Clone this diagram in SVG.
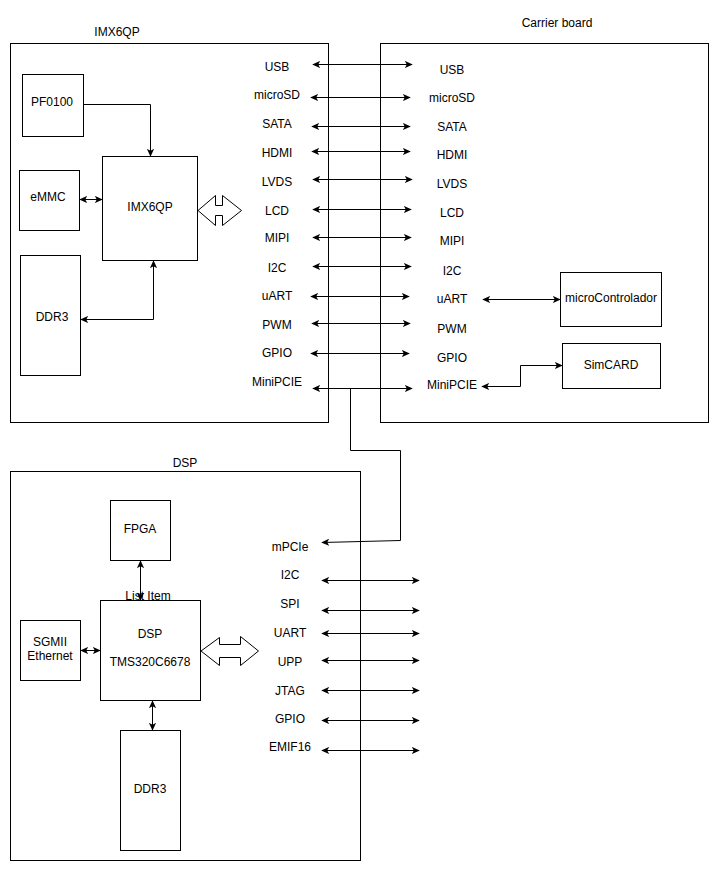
<svg xmlns="http://www.w3.org/2000/svg" width="720" height="871" viewBox="0 0 720 871">
<defs>
<marker id="ah" viewBox="0 0 10 10" refX="9" refY="5" markerWidth="8" markerHeight="8" markerUnits="userSpaceOnUse" orient="auto-start-reverse">
<path d="M0,0.5 L10,5 L0,9.5 L2.5,5 z" fill="#000"/>
</marker>
<style>
.box{fill:#fff;stroke:#000;stroke-width:1}
.c{fill:none;stroke:#000;stroke-width:1}
.a{marker-end:url(#ah)}
.d{marker-start:url(#ah);marker-end:url(#ah)}
.hol{fill:#fff;stroke:#000;stroke-width:1;stroke-linejoin:miter}
text{font-family:"Liberation Sans",Arial,Helvetica,sans-serif;font-size:12px;fill:#000;text-anchor:middle;dominant-baseline:central}
</style>
</defs>
<rect width="720" height="871" fill="#fff"/>

<g id="imx6qp-board">
<rect class="box" x="10.5" y="43.5" width="318" height="379"/>
<text x="117" y="32">IMX6QP</text>
</g>
<g id="carrier-board">
<rect class="box" x="380.5" y="43.5" width="328" height="379"/>
<text x="557" y="23">Carrier board</text>
</g>
<g id="dsp-board">
<rect class="box" x="10.5" y="471.5" width="350" height="389"/>
<text x="185" y="463">DSP</text>
</g>

<g id="pf0100"><rect class="box" x="22.5" y="74.5" width="61" height="62"/><text x="52" y="102">PF0100</text></g>
<g id="emmc"><rect class="box" x="19.5" y="170.5" width="60" height="60"/><text x="48" y="197">eMMC</text></g>
<g id="ddr3-imx"><rect class="box" x="20.5" y="255.5" width="60" height="120"/><text x="52" y="317">DDR3</text></g>
<g id="imx6qp"><rect class="box" x="102.5" y="156.5" width="95" height="104"/><text x="150" y="207">IMX6QP</text></g>
<g id="imx-bus"><path class="hol" d="M198,210.5 L215.5,195.5 L215.5,205.5 L222.5,205.5 L222.5,195.5 L241.5,210.5 L222.5,225.5 L222.5,215.5 L215.5,215.5 L215.5,225.5 Z"/></g>

<g id="imx-labels">
<text x="277" y="67">USB</text>
<text x="277" y="95">microSD</text>
<text x="277" y="124">SATA</text>
<text x="277" y="153">HDMI</text>
<text x="277" y="182">LVDS</text>
<text x="277" y="211">LCD</text>
<text x="277" y="238">MIPI</text>
<text x="277" y="268">I2C</text>
<text x="277" y="296">uART</text>
<text x="277" y="325">PWM</text>
<text x="277" y="353">GPIO</text>
<text x="277" y="382">MiniPCIE</text>
</g>
<g id="carrier-labels">
<text x="452" y="70">USB</text>
<text x="452" y="98">microSD</text>
<text x="452" y="127">SATA</text>
<text x="452" y="155">HDMI</text>
<text x="452" y="184">LVDS</text>
<text x="452" y="213">LCD</text>
<text x="452" y="241">MIPI</text>
<text x="452" y="271">I2C</text>
<text x="452" y="299">uART</text>
<text x="452" y="329">PWM</text>
<text x="452" y="358">GPIO</text>
<text x="452" y="385">MiniPCIE</text>
</g>
<g id="microcontrolador"><rect class="box" x="560.5" y="272.5" width="101" height="54"/><text x="611" y="298">microControlador</text></g>
<g id="simcard"><rect class="box" x="562.5" y="343.5" width="98" height="45"/><text x="611" y="365">SimCARD</text></g>

<g id="fpga"><rect class="box" x="110.5" y="500.5" width="60" height="60"/><text x="140" y="529">FPGA</text></g>
<g id="dsp"><rect class="box" x="100.5" y="600.5" width="100" height="100"/><text x="148" y="596">List Item</text><text x="150" y="634">DSP</text><text x="150" y="662">TMS320C6678</text></g>
<g id="sgmii"><rect class="box" x="20.5" y="620.5" width="60" height="60"/><text x="50" y="642">SGMII</text><text x="50" y="656">Ethernet</text></g>
<g id="ddr3-dsp"><rect class="box" x="120.5" y="730.5" width="60" height="120"/><text x="150" y="789">DDR3</text></g>
<g id="dsp-bus"><path class="hol" d="M201,651 L219.5,637.5 L219.5,644.5 L240.5,644.5 L240.5,636.5 L258.5,651 L240.5,665.5 L240.5,657.5 L219.5,657.5 L219.5,665.5 Z"/></g>

<g id="dsp-labels">
<text x="290" y="547">mPCIe</text>
<text x="290" y="575">I2C</text>
<text x="290" y="604">SPI</text>
<text x="290" y="633">UART</text>
<text x="290" y="662">UPP</text>
<text x="290" y="691">JTAG</text>
<text x="290" y="719">GPIO</text>
<text x="290" y="747">EMIF16</text>
</g>

<g id="connectors">
<path class="c a" d="M83.5,104.5 H150.5 V156"/>
<path class="c d" d="M80,199.5 H102"/>
<path class="c d" d="M81,319.5 H153.5 V261"/>

<path class="c d" d="M313,64.5 H412"/>
<path class="c d" d="M311,97.5 H410"/>
<path class="c d" d="M312,126.5 H410"/>
<path class="c d" d="M312,151.5 H410"/>
<path class="c d" d="M313,179.5 H412"/>
<path class="c d" d="M313,209.5 H411"/>
<path class="c d" d="M313,237.5 H411"/>
<path class="c d" d="M313,266.5 H411"/>
<path class="c d" d="M311,296.5 H409"/>
<path class="c d" d="M312,323.5 H410"/>
<path class="c d" d="M311,353.5 H409"/>
<path class="c d" d="M313,388.5 H412"/>

<path class="c d" d="M483,299.5 H560"/>
<path class="c d" d="M482,386.5 H520.5 V365.5 H562"/>

<path class="c a" d="M350.5,388.5 V450.5 H400.5 V540.5 L322,542.5"/>

<path class="c d" d="M140.5,561 V600"/>
<path class="c d" d="M81,650.5 H100"/>
<path class="c d" d="M152.5,701 V730"/>

<path class="c d" d="M322,580.5 H419"/>
<path class="c d" d="M322,610.5 H419"/>
<path class="c d" d="M322,633.5 H419"/>
<path class="c d" d="M322,660.5 H419"/>
<path class="c d" d="M322,690.5 H419"/>
<path class="c d" d="M322,720.5 H419"/>
<path class="c d" d="M322,750.5 H419"/>
</g>
</svg>
